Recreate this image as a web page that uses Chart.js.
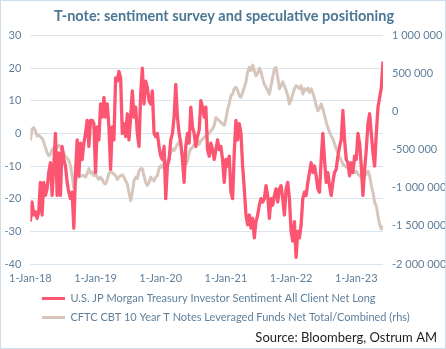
<!DOCTYPE html>
<html>
<head>
<meta charset="utf-8">
<script src="https://cdn.jsdelivr.net/npm/chart.js@4.4.0/dist/chart.umd.min.js"></script>
<style>
  html, body { margin: 0; padding: 0; background: #fff; }
  #wrap { width: 446px; height: 349px; box-sizing: border-box; border: 1px solid #cddde9; }
  canvas { display: block; }
</style>
</head>
<body>
<div id="wrap"><canvas id="chart" width="444" height="347"></canvas></div>
<script>
// series, one value roughly every 9 days from 1 Jan 2018
const startYear = 2018;
const pointsPerYear = 39;

const sentiment = [
  -27, -21, -25, -24, -26, -24, -15, -25, -15, -19,
  -17, -12, -9, -19, -10, 0, -19, -6, -19, -4,
  -8, -10, -15, -18, -20, -18, -29, -12, -2, -13,
  -3, -8, -3, 0, 4, -4, 4, 4, 3, -12,
  2, -2, 9, 5, 11, 5, 9, 2, -11, 2,
  -2, 17, 16, 19, 17, 0, 3, -1, 6, -2,
  5, 13, 5, 8, 0, -4, 12, 20, 9, 16,
  14, 10, 9, 13, 0, -1, 0, -4, -7, -8,
  -4, -20, -10, -8, -2, 0, 5, 15, 5, 0,
  -3, -8, -15, -4, 0, -3, 8, 2, 0, -4,
  -1, 1, 10, 8, 5, 8, -5, -7, -3, -5,
  -8, -5, -2, -5, -4, -8, -15, -8, -10, -7,
  -18, -20, -6, 4, -2, 3, 0, -10, -17, -25,
  -28, -25, -29, -26, -32, -27, -25, -22, -20, -21,
  -20, -16, -19, -26, -20, -22, -19, -17, -21, -17,
  -16, -20, -25, -17, -15, -20, -30, -33, -27, -38,
  -30, -32, -28, -20, -18, -19, -15, -12, -9, -12,
  -10, -13, -17, -18, -8, 0, -8, -15, -12, -16,
  -19, -15, -12, -11, -7, -4, -2, 7, -2, -8,
  -9, -13, -9, -12, -7, -8, 0, -3, -10, -19,
  -11, -5, 3, 6, 0, -6, -10, 0, 8, 11,
  14, 22
];

const positioning = [
  -380000, -230000, -210000, -250000, -320000, -310000, -330000, -350000, -400000, -470000,
  -540000, -580000, -560000, -500000, -480000, -460000, -470000, -440000, -470000, -500000,
  -540000, -590000, -610000, -640000, -710000, -840000, -1000000, -930000, -850000, -860000,
  -850000, -840000, -840000, -860000, -810000, -750000, -810000, -790000, -840000, -820000,
  -860000, -890000, -860000, -890000, -940000, -950000, -890000, -810000, -780000, -800000,
  -820000, -840000, -890000, -860000, -840000, -830000, -860000, -910000, -950000, -1060000,
  -1170000, -1060000, -910000, -860000, -880000, -780000, -750000, -750000, -840000, -930000,
  -970000, -930000, -860000, -890000, -910000, -860000, -840000, -750000, -710000, -730000,
  -670000, -690000, -650000, -600000, -540000, -490000, -510000, -470000, -430000, -400000,
  -450000, -540000, -620000, -690000, -650000, -540000, -490000, -470000, -430000, -450000,
  -400000, -430000, -380000, -360000, -340000, -320000, -270000, -290000, -250000, -230000,
  -180000, -80000, -100000, -120000, -140000, -160000, -180000, -100000, 30000, 100000,
  210000, 230000, 300000, 320000, 280000, 210000, 190000, 250000, 320000, 390000,
  520000, 580000, 540000, 610000, 540000, 470000, 500000, 570000, 520000, 430000,
  360000, 320000, 280000, 230000, 340000, 450000, 560000, 580000, 450000, 300000,
  340000, 390000, 340000, 280000, 210000, 100000, 150000, 230000, 300000, 340000,
  320000, 300000, 340000, 230000, 300000, 280000, 310000, 250000, 300000, 250000,
  170000, 80000, 10000, 40000, 100000, 40000, -50000, -140000, -210000, -270000,
  -320000, -360000, -420000, -490000, -540000, -600000, -640000, -690000, -710000, -730000,
  -710000, -730000, -750000, -780000, -800000, -780000, -820000, -840000, -860000, -910000,
  -840000, -820000, -780000, -840000, -970000, -1060000, -1190000, -1240000, -1370000, -1480000,
  -1540000, -1500000
];

const xTickYears = [2018, 2019, 2020, 2021, 2022, 2023];
const xTickLabels = ['1-Jan-18', '1-Jan-19', '1-Jan-20', '1-Jan-21', '1-Jan-22', '1-Jan-23'];

const seriesNames = [
  'U.S. JP Morgan Treasury Investor Sentiment All Client Net Long',
  'CFTC CBT 10 Year T Notes Leveraged Funds Net Total/Combined (rhs)'
];
const titleText = 'T-note: sentiment survey and speculative positioning';
const sourceText = 'Source: Bloomberg, Ostrum AM';

const tickColor = '#5f7f9a';
const fontFamily = 'Lato, "Noto Sans", sans-serif';

function toPoints(values) {
  return values.map((v, i) => ({ x: startYear + i / pointsPerYear, y: v }));
}

function spaced(v) {
  const s = String(Math.abs(v)).replace(/\B(?=(\d{3})+(?!\d))/g, ' ');
  return v < 0 ? '-' + s : s;
}

// move legend and source line to where the original has them
const nudge = {
  id: 'nudge',
  afterLayout(chart) {
    chart.legend.left = 33;
    const src = chart.boxes.find(b => b.options && b.options.text === sourceText);
    if (src) src.right = 436;
  }
};

const ctx = document.getElementById('chart').getContext('2d');
const chart = new Chart(ctx, {
  type: 'line',
  data: {
    datasets: [{
      label: seriesNames[0],
      data: toPoints(sentiment),
      yAxisID: 'y',
      borderColor: '#fb5572',
      backgroundColor: '#fb5572',
      borderWidth: 3.3,
      pointRadius: 0,
      borderJoinStyle: 'round'
    }, {
      label: seriesNames[1],
      data: toPoints(positioning),
      yAxisID: 'y1',
      borderColor: '#d6c6bb',
      backgroundColor: '#d6c6bb',
      borderWidth: 3,
      pointRadius: 0,
      borderJoinStyle: 'round'
    }]
  },
  options: {
    responsive: false,
    animation: false,
    layout: { padding: { left: 2, right: 0, top: 0, bottom: 0 } },
    scales: {
      x: {
        type: 'linear',
        min: startYear,
        max: startYear + (sentiment.length - 1) / pointsPerYear,
        afterBuildTicks: s => { s.ticks = xTickYears.map(v => ({ value: v })); },
        afterFit: s => { s.height = 21; },
        grid: { display: false, drawTicks: false },
        border: { display: false },
        ticks: {
          autoSkip: false,
          maxRotation: 0,
          padding: 8,
          color: tickColor,
          font: { family: fontFamily, size: 11 },
          callback: (v, i) => xTickLabels[i]
        }
      },
      y: {
        position: 'left',
        min: -40,
        max: 30,
        afterFit: s => { s.width = 27; },
        grid: { color: '#d8e5ee', drawTicks: false },
        border: { display: false },
        ticks: {
          stepSize: 10,
          padding: 9,
          color: tickColor,
          font: { family: fontFamily, size: 11 }
        }
      },
      y1: {
        position: 'right',
        min: -2000000,
        max: 1000000,
        afterFit: s => { s.width = 62; },
        grid: { display: false, drawTicks: false },
        border: { display: false },
        ticks: {
          stepSize: 500000,
          padding: 9,
          color: tickColor,
          font: { family: fontFamily, size: 11 },
          callback: v => spaced(v)
        }
      }
    },
    plugins: {
      tooltip: { enabled: false },
      title: {
        display: true,
        text: titleText,
        color: '#4b7694',
        font: { family: fontFamily, size: 14.5, weight: 'bold' },
        padding: { top: 7, bottom: 10 }
      },
      legend: {
        position: 'bottom',
        align: 'start',
        labels: {
          boxWidth: 23,
          boxHeight: 3,
          padding: 8,
          color: tickColor,
          font: { family: fontFamily, size: 11 },
          generateLabels: c => Chart.defaults.plugins.legend.labels.generateLabels(c)
            .map(item => Object.assign(item, { lineWidth: 0 }))
        }
      },
      subtitle: {
        display: true,
        position: 'bottom',
        align: 'end',
        text: sourceText,
        color: '#1e1e1e',
        font: { family: fontFamily, size: 13 },
        padding: { top: -2.6, bottom: 2 }
      }
    }
  },
  plugins: [nudge]
});
</script>
</body>
</html>
